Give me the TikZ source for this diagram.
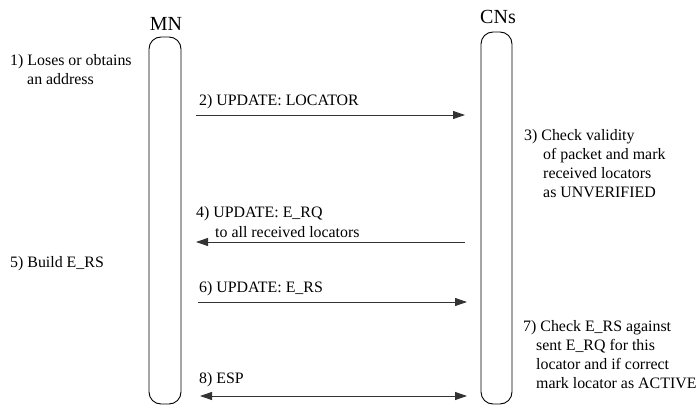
\documentclass[tikz,border=0pt]{standalone}
\usepackage{fontspec}
\setmainfont{Liberation Serif}
\usetikzlibrary{arrows.meta}

\tikzset{
  lifeline/.style={draw, line width=0.9pt, rounded corners=12pt},
  msg/.style={line width=0.9pt, draw=black!80, -{Triangle[length=12pt,width=8pt]}},
  msgboth/.style={line width=0.9pt, draw=black!80, {Triangle[length=12pt,width=8pt]}-{Triangle[length=12pt,width=8pt]}},
  txt/.style={anchor=base west, inner sep=0pt,
    font=\fontsize{15.9}{19.2}\selectfont},
  actor/.style={anchor=center, inner sep=0pt, font=\fontsize{20}{24}\selectfont}
}

\begin{document}
\begin{tikzpicture}[x=1pt, y=-1pt]

  %% ---- lifelines ----
  \draw[lifeline] (149,37) rectangle (181,404);
  \draw[lifeline] (481,32) rectangle (512,404);
  \node[actor] (mn) at (166,24) {MN};
  \node[actor] (cns) at (498,17) {CNs};

  %% ---- message end points ----
  \coordinate (mn2) at (196,115);  \coordinate (cn2) at (465,115);
  \coordinate (mn4) at (196,242);  \coordinate (cn4) at (465,242);
  \coordinate (mn6) at (198,302);  \coordinate (cn6) at (467,302);
  \coordinate (mn8) at (200,396);  \coordinate (cn8) at (467,396);

  %% ---- messages ----
  \draw[msg] (mn2) -- (cn2);
  \draw[msg] (cn4) -- (mn4);
  \draw[msg] (mn6) -- (cn6);
  \draw[msgboth] (mn8) -- (cn8);

  %% ---- message labels ----
  \node[txt] (l2) at (199,106) {2) UPDATE: LOCATOR};
  \node[txt] (l4) at (196,218) {4) UPDATE: E\_RQ};
  \node[txt] (l4b) at (215,237) {to all received locators};
  \node[txt] (l6) at (199,292) {6) UPDATE: E\_RS};
  \node[txt] (l8) at (199,383) {8) ESP};

  %% ---- step notes ----
  \node[txt] (s1) at (10,66) {1) Loses or obtains};
  \node[txt] (s1b) at (27,85) {an address};
  \node[txt] (s5) at (10,267) {5) Build E\_RS};

  \node[txt] (s3) at (524,141) {3) Check validity};
  \node[txt] (s3b) at (543,160) {of packet and mark};
  \node[txt] (s3c) at (543,179) {received locators};
  \node[txt] (s3d) at (543,198) {as UNVERIFIED};

  \node[txt] (s7) at (523,331) {7) Check E\_RS against};
  \node[txt] (s7b) at (536,350) {sent E\_RQ for this};
  \node[txt] (s7c) at (536,369) {locator and if correct};
  \node[txt] (s7d) at (536,388) {mark locator as ACTIVE};

  \pgfresetboundingbox
  \path[use as bounding box] (0,0) rectangle (696,406);
\end{tikzpicture}
\end{document}
